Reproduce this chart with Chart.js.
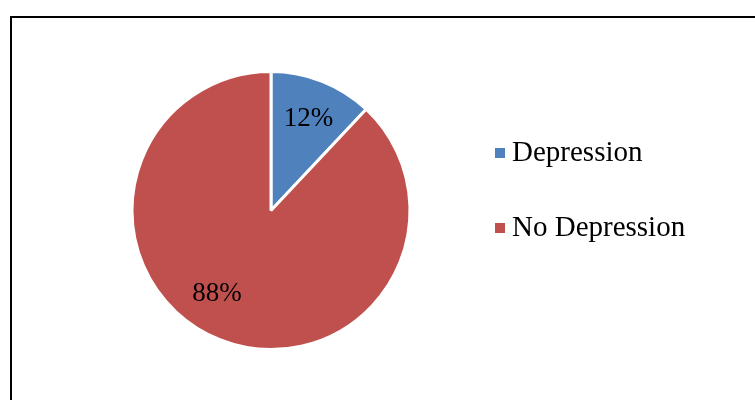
<!DOCTYPE html>
<html>
<head>
<meta charset="utf-8">
<script src="https://cdn.jsdelivr.net/npm/chart.js@4/dist/chart.umd.min.js"></script>
<style>
  html, body { margin: 0; padding: 0; background: #fff; }
  canvas { display: block; }
</style>
</head>
<body>
<canvas id="pie" width="755" height="400"></canvas>
<script>
// data
const categories = ['Depression', 'No Depression'];
const shares = [12, 88];
const sliceColors = ['#4F81BD', '#C0504D'];

const FONT = '"Liberation Serif", "Times New Roman", serif';

// frame around the plot, cut by the page edge like the original screenshot
const framePlugin = {
    id: 'frame',
    beforeDraw(chart) {
        const ctx = chart.ctx;
        ctx.save();
        ctx.fillStyle = '#fff';
        ctx.fillRect(0, 0, chart.width, chart.height);
        ctx.strokeStyle = '#000';
        ctx.lineWidth = 2;
        ctx.strokeRect(11, 17, chart.width + 20, chart.height + 20);
        ctx.restore();
    }
};

// percent labels inside slices
const sliceLabels = {
    id: 'sliceLabels',
    afterDatasetsDraw(chart, args, opts) {
        const ctx = chart.ctx;
        const arcs = chart.getDatasetMeta(0).data;
        ctx.save();
        ctx.font = `27px ${FONT}`;
        ctx.fillStyle = '#000';
        ctx.textAlign = 'center';
        ctx.textBaseline = 'middle';
        arcs.forEach((arc, i) => {
            const { x, y, startAngle, endAngle, outerRadius } = arc.getProps(['x', 'y', 'startAngle', 'endAngle', 'outerRadius'], true);
            const mid = (startAngle + endAngle) / 2 + (opts.shift[i] || 0) * Math.PI / 180;
            const r = outerRadius * opts.factor;
            ctx.fillText(shares[i] + '%', x + Math.cos(mid) * r + 1, y + Math.sin(mid) * r + 1);
        });
        ctx.restore();
    }
};

// legend on the right, Excel style
const sideLegend = {
    id: 'sideLegend',
    afterDraw(chart, args, opts) {
        const ctx = chart.ctx;
        ctx.save();
        ctx.font = `29px ${FONT}`;
        ctx.textBaseline = 'alphabetic';
        categories.forEach((name, i) => {
            const cy = opts.top + i * opts.gap;
            ctx.fillStyle = sliceColors[i];
            ctx.fillRect(opts.left, cy - 5, 10, 10);
            ctx.fillStyle = '#000';
            ctx.fillText(name, opts.left + 17, cy + 8);
        });
        ctx.restore();
    }
};

new Chart(document.getElementById('pie'), {
    type: 'pie',
    data: {
        labels: categories,
        datasets: [{
            data: shares,
            backgroundColor: sliceColors,
            borderColor: '#fff',
            borderWidth: 3,
            hoverOffset: 0
        }]
    },
    options: {
        responsive: false,
        animation: false,
        layout: { padding: { left: 130, right: 343, top: 70, bottom: 49 } },
        plugins: {
            legend: { display: false },
            tooltip: { enabled: false },
            sliceLabels: { factor: 0.715, shift: [0, 12] },
            sideLegend: { left: 495, top: 153, gap: 75 }
        }
    },
    plugins: [framePlugin, sliceLabels, sideLegend]
});
</script>
</body>
</html>
